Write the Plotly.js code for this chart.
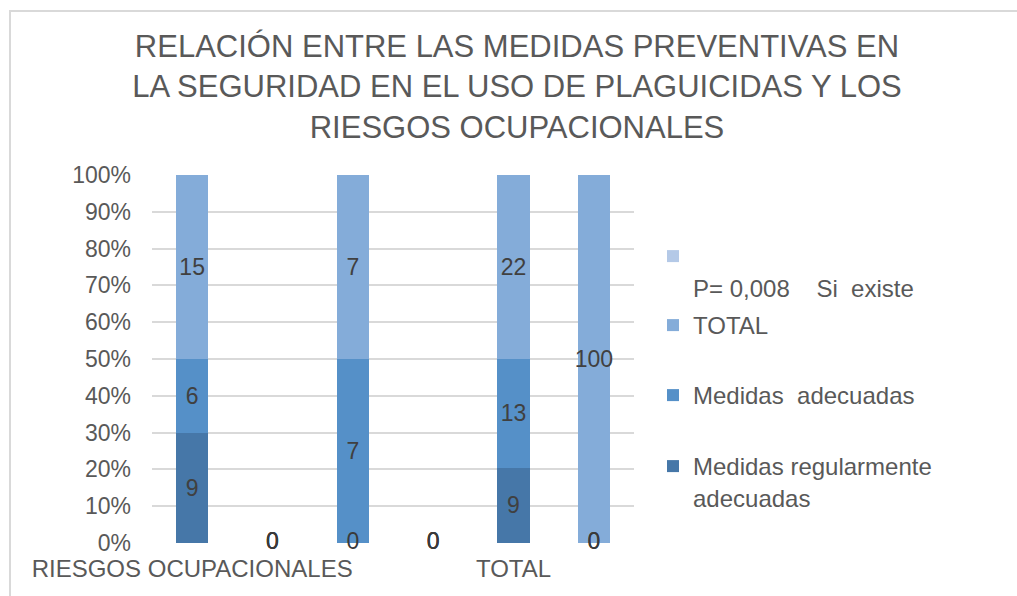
<!DOCTYPE html>
<html>
<head>
<meta charset="utf-8">
<script src="https://cdn.plot.ly/plotly-3.0.1.min.js"></script>
<style>
  html, body { margin: 0; padding: 0; background: #ffffff; }
  #wrap { position: relative; width: 1017px; height: 596px; overflow: hidden; }
  #chart { position: absolute; left: 0; top: 0; width: 1017px; height: 596px; }
  #frame { position: absolute; left: 9px; top: 10px; width: 2000px; height: 2000px;
           border-left: 2px solid #d9d9d9; border-top: 2px solid #d9d9d9; pointer-events: none; }
</style>
</head>
<body>
<div id="wrap"><div id="chart"></div><div id="frame"></div></div>
<script>
// ---- data ----
const positions = [1, 2, 3, 4, 5, 6];
const tickPositions = [1, 5];
const tickLabels = ['RIESGOS OCUPACIONALES', 'TOTAL'];

const regularmente = [9, 0, 0, 0, 9, 0];    // Medidas regularmente adecuadas
const adecuadas    = [6, 0, 7, 0, 13, 0];   // Medidas  adecuadas
const total        = [15, 0, 7, 0, 22, 100]; // TOTAL
const pSeries      = [null, null, null, null, null, null]; // P= 0,008    Si  existe

const seriesNames = [
  'Medidas regularmente<br>adecuadas',
  'Medidas\u00a0\u00a0adecuadas',
  'TOTAL',
  '<br>P=\u00a00,008\u00a0\u00a0\u00a0\u00a0Si\u00a0\u00a0existe'
];
const seriesColors = ['#4677a8', '#5590c8', '#84acd9', '#b4c9e7'];
const titleText = 'RELACIÓN ENTRE LAS MEDIDAS PREVENTIVAS EN<br>LA SEGURIDAD EN EL USO DE PLAGUICIDAS Y LOS<br>RIESGOS OCUPACIONALES';

// ---- build traces ----
const allSeries = [regularmente, adecuadas, total, pSeries];
const sums = positions.map((_, i) => allSeries.reduce((s, a) => s + (a[i] || 0), 0));
const FONT = 'Liberation Sans, Arial, sans-serif';
const legendNames = ['legend4', 'legend3', 'legend2', 'legend'];

const traces = [];
allSeries.forEach((vals, k) => {
  const frac = vals.map((v, i) => (v === null || sums[i] === 0) ? 0 : v / sums[i]);
  traces.push({
    type: 'bar',
    x: positions,
    y: frac,
    name: seriesNames[k],
    legend: legendNames[k],
    marker: { color: seriesColors[k], line: { width: 0 } },
    text: vals.map(v => (v === null || v === 0) ? '' : String(v)),
    textposition: 'inside',
    insidetextanchor: 'middle',
    textangle: 0,
    constraintext: 'none',
    textfont: { family: FONT, size: 23, color: '#404040' },
    width: 0.4,
    hoverinfo: 'skip'
  });
});
// zero-value data labels (drawn at the base of the axis, as in the reference)
allSeries.forEach((vals, k) => {
  const xs = [], ys = [], ts = [];
  vals.forEach((v, i) => { if (v === 0) { xs.push(positions[i]); ys.push(0); ts.push('0'); } });
  if (xs.length) traces.push({
    type: 'scatter', mode: 'text', x: xs, y: ys, text: ts,
    textposition: 'middle center', showlegend: false, cliponaxis: false,
    textfont: { family: FONT, size: 23, color: '#3a3a3a' }, hoverinfo: 'skip'
  });
});

function legendAt(ypx) {
  return {
    xref: 'container', yref: 'container', x: 653 / 1017, y: 1 - ypx / 596,
    xanchor: 'left', yanchor: 'top', valign: 'top', bgcolor: 'rgba(0,0,0,0)',
    font: { family: FONT, size: 24, color: '#595959' }, itemwidth: 30, itemclick: false
  };
}

const layout = {
  width: 1017, height: 596,
  paper_bgcolor: '#ffffff', plot_bgcolor: '#ffffff',
  margin: { l: 152, r: 383, t: 175, b: 53 },
  barmode: 'stack',
  bargap: 0.6,
  showlegend: true,
  title: {
    text: titleText,
    font: { family: FONT, size: 31, color: '#595959' },
    xref: 'container', yref: 'container', x: 517 / 1017, xanchor: 'center',
    y: 1 - 57 / 596, yanchor: 'top'
  },
  xaxis: {
    range: [0.5, 6.5], tickmode: 'array', tickvals: tickPositions, ticktext: tickLabels,
    showgrid: false, zeroline: false, showline: false, ticks: '',
    ticklabelstandoff: 9,
    tickfont: { family: FONT, size: 24, color: '#595959' }, fixedrange: true
  },
  yaxis: {
    range: [0, 1], dtick: 0.1, tickformat: '.0%',
    showgrid: true, gridcolor: '#d9d9d9', gridwidth: 2,
    zeroline: false, showline: false, ticks: '',
    ticklabelstandoff: 20,
    tickfont: { family: FONT, size: 23, color: '#595959' }, fixedrange: true
  },
  legend: legendAt(234),
  legend2: legendAt(303),
  legend3: legendAt(373),
  legend4: legendAt(444)
};

Plotly.newPlot('chart', traces, layout, { displayModeBar: false, staticPlot: true });
</script>
</body>
</html>
